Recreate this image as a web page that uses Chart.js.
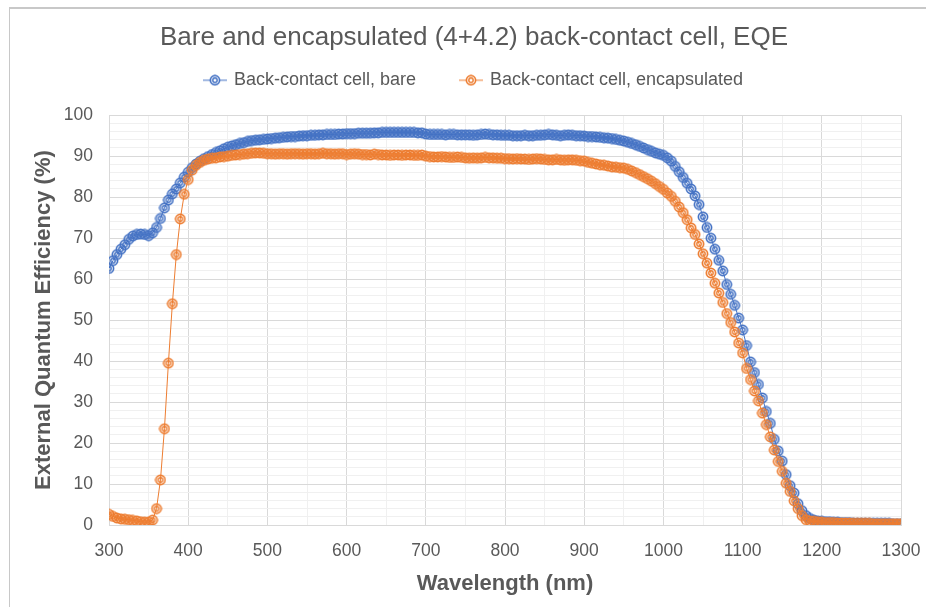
<!DOCTYPE html>
<html>
<head>
<meta charset="utf-8">
<title>Bare and encapsulated back-contact cell, EQE</title>
<script src="https://cdn.jsdelivr.net/npm/chart.js@4.4.1/dist/chart.umd.min.js"></script>
<style>
  html, body { margin: 0; padding: 0; background: #fff; overflow: hidden; }
  canvas { position: absolute; left: 0; top: 0; }
  #frame { position: absolute; left: 9px; top: 7px; width: 2000px; height: 2000px;
           border-left: 1px solid #c8c8c8; border-top: 2px solid #c8c8c8; pointer-events: none; }
</style>
</head>
<body>
<canvas id="eqe-chart" width="926" height="607"></canvas>
<div id="frame"></div>
<script>
const chartTitle = "Bare and encapsulated (4+4.2) back-contact cell, EQE";
const xTitle = "Wavelength (nm)";
const yTitle = "External Quantum Efficiency (%)";
const seriesNames = ["Back-contact cell, bare", "Back-contact cell, encapsulated"];
const seriesColors = ["#4472C4", "#ED7D31"];

// wavelength (nm)
const wavelengths = [
  300,305,310,315,320,325,330,335,340,345,350,355,360,365,370,375,380,385,390,395,
  400,405,410,415,420,425,430,435,440,445,450,455,460,465,470,475,480,485,490,495,
  500,505,510,515,520,525,530,535,540,545,550,555,560,565,570,575,580,585,590,595,
  600,605,610,615,620,625,630,635,640,645,650,655,660,665,670,675,680,685,690,695,
  700,705,710,715,720,725,730,735,740,745,750,755,760,765,770,775,780,785,790,795,
  800,805,810,815,820,825,830,835,840,845,850,855,860,865,870,875,880,885,890,895,
  900,905,910,915,920,925,930,935,940,945,950,955,960,965,970,975,980,985,990,995,
  1000,1005,1010,1015,1020,1025,1030,1035,1040,1045,1050,1055,1060,1065,1070,1075,1080,1085,1090,1095,
  1100,1105,1110,1115,1120,1125,1130,1135,1140,1145,1150,1155,1160,1165,1170,1175,1180,1185,1190,1195,
  1200,1205,1210,1215,1220,1225,1230,1235,1240,1245,1250,1255,1260,1265,1270,1275,1280,1285,1290,1295,
  1300
];

// EQE (%), bare cell
const bare = [
  62.6,64.5,66.0,67.3,68.4,69.7,70.5,70.9,71.0,70.9,70.6,71.3,72.6,74.8,77.4,79.3,80.8,82.0,83.5,84.9,
  86.1,87.2,88.1,88.8,89.4,89.9,90.4,90.9,91.3,91.8,92.2,92.5,92.8,93.1,93.3,93.6,93.8,93.9,94.0,94.1,
  94.2,94.3,94.4,94.5,94.6,94.7,94.8,94.8,94.9,95.0,95.0,95.1,95.1,95.2,95.2,95.3,95.3,95.3,95.4,95.4,
  95.5,95.5,95.5,95.6,95.6,95.6,95.6,95.7,95.7,95.8,95.8,95.8,95.8,95.8,95.8,95.8,95.8,95.8,95.7,95.7,
  95.4,95.3,95.3,95.3,95.3,95.2,95.3,95.3,95.2,95.2,95.2,95.2,95.1,95.2,95.3,95.4,95.3,95.2,95.2,95.1,
  95.1,95.1,95.0,95.0,95.0,95.1,95.0,95.0,95.1,95.1,95.2,95.3,95.2,95.1,95.0,95.1,95.2,95.1,95.0,95.0,
  94.9,94.8,94.8,94.7,94.6,94.5,94.4,94.3,94.1,93.9,93.7,93.4,93.1,92.8,92.4,92.0,91.6,91.2,90.8,90.5,
  90.2,89.6,88.8,87.5,86.2,84.8,83.4,82.0,80.3,78.2,75.2,72.6,70.0,67.3,64.6,62.0,58.7,56.3,53.6,50.5,
  47.6,43.8,39.8,37.2,34.3,31.0,27.7,24.8,20.9,18.1,15.6,12.3,9.6,7.8,5.2,3.5,2.3,1.6,1.2,1.0,
  0.9,0.8,0.8,0.7,0.7,0.6,0.6,0.6,0.5,0.5,0.5,0.5,0.4,0.4,0.4,0.4,0.4,0.4,0.3,0.3,
  0.3
];

// EQE (%), encapsulated cell
const encapsulated = [
  2.6,2.1,1.7,1.5,1.4,1.3,1.1,1.0,0.8,0.7,0.7,1.2,4.0,11.0,23.5,39.5,54.0,66.0,74.7,80.7,
  84.3,86.6,87.8,88.5,89.0,89.3,89.5,89.6,89.8,89.9,90.0,90.2,90.3,90.4,90.5,90.6,90.7,90.8,90.8,90.7,
  90.6,90.6,90.5,90.6,90.6,90.5,90.6,90.6,90.6,90.5,90.6,90.6,90.5,90.6,90.7,90.6,90.6,90.5,90.6,90.6,
  90.4,90.5,90.6,90.5,90.4,90.4,90.3,90.5,90.4,90.3,90.3,90.2,90.3,90.3,90.2,90.3,90.3,90.2,90.2,90.3,
  90.0,89.9,89.8,89.8,89.9,89.8,89.7,89.7,89.8,89.7,89.6,89.5,89.6,89.5,89.6,89.7,89.6,89.6,89.5,89.5,
  89.4,89.4,89.3,89.4,89.3,89.3,89.2,89.3,89.4,89.3,89.2,89.1,89.1,89.2,89.1,89.0,89.1,89.1,89.0,88.9,
  88.8,88.5,88.3,88.1,87.9,87.8,87.6,87.4,87.3,87.2,87.1,86.8,86.4,86.0,85.5,85.0,84.5,83.9,83.3,82.6,
  81.9,81.0,80.2,79.0,77.6,76.2,74.5,72.5,70.9,68.6,66.2,63.9,61.5,59.0,56.6,54.3,51.6,49.4,47.1,44.4,
  42.0,38.2,35.5,32.7,30.3,27.3,24.5,21.5,18.3,15.5,13.1,10.2,8.2,5.9,4.0,2.3,1.3,1.0,0.9,0.8,
  0.7,0.6,0.6,0.6,0.5,0.5,0.5,0.5,0.4,0.4,0.4,0.4,0.4,0.3,0.3,0.3,0.3,0.3,0.3,0.3,
  0.3
];

const textColor = "#595959";
const majorGrid = "#d9d9d9";
const minorGrid = "#f0f0f0";

// Excel style "bullseye" marker, optionally with the legend line through it
function makeMarker(color, withLine) {
  const c = document.createElement("canvas");
  c.width = withLine ? 24 : 12;
  c.height = 12;
  const g = c.getContext("2d");
  const cx = c.width / 2;
  g.strokeStyle = color;
  if (withLine) {
    g.lineWidth = 1;
    g.beginPath(); g.moveTo(0, 6); g.lineTo(c.width, 6); g.stroke();
    g.fillStyle = "#fff";
    g.beginPath(); g.arc(cx, 6, 4.7, 0, Math.PI * 2); g.fill();
  }
  g.lineWidth = 1.7;
  g.beginPath(); g.arc(cx, 6, 4.6, 0, Math.PI * 2); g.stroke();
  g.lineWidth = 1.4;
  g.beginPath(); g.arc(cx, 6, 2.2, 0, Math.PI * 2); g.stroke();
  return c;
}

const pointMarkers = seriesColors.map(c => makeMarker(c, false));
const legendMarkers = seriesColors.map(c => makeMarker(c, true));

function toPoints(values) {
  return wavelengths.map((w, i) => ({ x: w, y: values[i] }));
}

const ctx = document.getElementById("eqe-chart").getContext("2d");
new Chart(ctx, {
  type: "line",
  data: {
    datasets: [
      {
        label: seriesNames[0],
        data: toPoints(bare),
        borderColor: seriesColors[0],
        borderWidth: 1,
        pointStyle: pointMarkers[0],
        pointRadius: 5,
        pointHoverRadius: 5,
        order: 1
      },
      {
        label: seriesNames[1],
        data: toPoints(encapsulated),
        borderColor: seriesColors[1],
        borderWidth: 1,
        pointStyle: pointMarkers[1],
        pointRadius: 5,
        pointHoverRadius: 5,
        order: 0
      }
    ]
  },
  options: {
    responsive: false,
    animation: false,
    layout: { padding: { left: 47, right: 25, top: 0, bottom: 0 } },
    plugins: {
      tooltip: { enabled: false },
      title: {
        display: true,
        text: chartTitle,
        color: textColor,
        font: { family: "Liberation Sans", size: 26, weight: "normal", lineHeight: 1.2 },
        padding: { top: 22, bottom: -27 }
      },
      subtitle: {
        // spacer between legend and plot area
        display: true,
        text: "",
        weight: 500,
        padding: 0,
        font: { size: 16, lineHeight: 1 }
      },
      legend: {
        display: true,
        labels: {
          usePointStyle: true,
          pointStyleWidth: 20,
          padding: 45,
          color: textColor,
          font: { family: "Liberation Sans", size: 18 },
          generateLabels: () => seriesNames.map((name, i) => ({
            text: name,
            fillStyle: "transparent",
            strokeStyle: "transparent",
            lineWidth: 0,
            pointStyle: legendMarkers[i],
            fontColor: textColor,
            hidden: false,
            datasetIndex: i
          }))
        }
      }
    },
    scales: {
      x: {
        type: "linear",
        min: 300,
        max: 1300,
        afterFit: s => { s.height = 82; },
        border: { color: majorGrid },
        grid: {
          drawTicks: true,
          tickLength: 11,
          tickColor: "rgba(0,0,0,0)",
          color: c => (c.tick && c.tick.value % 100 === 0) ? majorGrid : minorGrid
        },
        ticks: {
          stepSize: 50,
          maxTicksLimit: 1000,
          autoSkip: false,
          maxRotation: 0,
          padding: 5,
          color: textColor,
          font: { family: "Liberation Sans", size: 17.5 },
          callback: v => (v % 100 === 0 ? v : "")
        },
        title: {
          display: true,
          text: xTitle,
          color: textColor,
          font: { family: "Liberation Sans", size: 22, weight: "bold", lineHeight: 1.2 },
          padding: { top: 0, bottom: 10 }
        }
      },
      y: {
        min: 0,
        max: 100,
        afterFit: s => { s.width = 62; },
        border: { color: majorGrid },
        grid: {
          drawTicks: false,
          color: c => (c.tick && c.tick.value % 10 === 0) ? majorGrid : minorGrid
        },
        ticks: {
          stepSize: 2,
          maxTicksLimit: 1000,
          autoSkip: false,
          padding: 16,
          color: textColor,
          font: { family: "Liberation Sans", size: 17.5 },
          callback: v => (v % 10 === 0 ? v : "")
        },
        title: {
          display: true,
          text: yTitle,
          color: textColor,
          font: { family: "Liberation Sans", size: 22, weight: "bold", lineHeight: 1.2 },
          padding: { top: -16, bottom: 0 }
        }
      }
    }
  }
});
</script>
</body>
</html>
